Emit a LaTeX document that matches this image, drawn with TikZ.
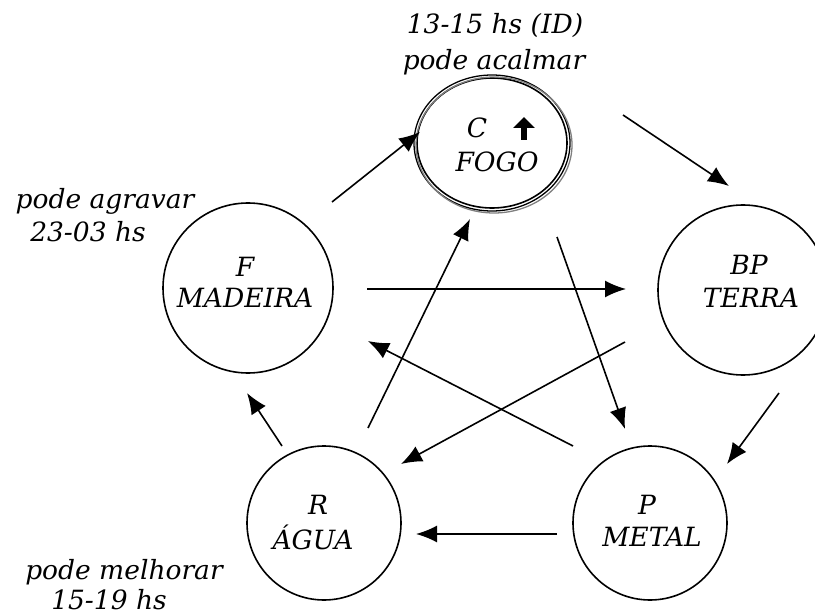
\documentclass[tikz,border=0pt]{standalone}
\usepackage{fontspec}
\setmainfont{DejaVu Serif}
\usetikzlibrary{arrows.meta,shapes.geometric}
\begin{document}
\begin{tikzpicture}[x=1pt,y=-1pt,
  lbl/.style={font=\fontsize{26.5}{30}\selectfont\itshape, inner sep=0pt},
  elem/.style={draw, line width=1.6pt, circle, inner sep=0pt},
  conn/.style={line width=1.6pt, -{Latex[length=21pt,width=17pt]}}]
\useasboundingbox (0,0) rectangle (815,615);
\fill[white] (0,0) rectangle (815,615);
% circles
\node[draw, line width=1.6pt, ellipse, minimum width=150pt, minimum height=130pt, inner sep=0pt] (C) at (492,143) {};
\draw[line width=1.3pt] (492,143) ellipse [x radius=78, y radius=68];
\draw[line width=1.3pt, gray] (494,145) ellipse [x radius=78, y radius=68];
\node[elem, minimum size=170pt] (F) at (248,288) {};
\node[elem, minimum size=170pt] (BP) at (743,290) {};
\node[elem, minimum size=154pt] (R) at (324,523) {};
\node[elem, minimum size=154pt] (P) at (650,523) {};
% texts
\node[lbl] (tC1) at (477,128) {C};
\coordinate (up1) at (524,140); \coordinate (up2) at (524,117);
\draw[line width=5.5pt, -{Triangle[length=11pt,width=21pt]}] (up1) -- (up2);
\node[lbl] (tC2) at (497,162) {FOGO};
\node[lbl] (tF1) at (245,267) {F};
\node[lbl] (tF2) at (245,298) {MADEIRA};
\node[lbl] (tB1) at (749,265) {BP};
\node[lbl] (tB2) at (751,298) {TERRA};
\node[lbl] (tR1) at (318,505) {R};
\node[lbl] (tR2) at (313,537) {ÁGUA};
\node[lbl] (tP1) at (647,505) {P};
\node[lbl] (tP2) at (652,537) {METAL};
\node[lbl] (n1) at (495,25) {13-15 hs (ID)};
\node[lbl] (n2) at (494,62) {pode acalmar};
\node[lbl] (n3) at (105,201) {pode agravar};
\node[lbl] (n4) at (88,232) {23-03 hs};
\node[lbl] (n5) at (124,572) {pode melhorar};
\node[lbl] (n6) at (109,600) {15-19 hs};
% connector ends
\coordinate (a1s) at (332,202); \coordinate (a1e) at (420,132);
\coordinate (a2s) at (623,115); \coordinate (a2e) at (729,186);
\coordinate (a3s) at (367,289); \coordinate (a3e) at (626,289);
\coordinate (a4s) at (625,342); \coordinate (a4e) at (401,464);
\coordinate (a5s) at (573,446); \coordinate (a5e) at (368,341);
\coordinate (a6s) at (557,237); \coordinate (a6e) at (625,429);
\coordinate (a7s) at (368,428); \coordinate (a7e) at (470,219);
\coordinate (a8s) at (282,446); \coordinate (a8e) at (247,393);
\coordinate (a9s) at (779,393); \coordinate (a9e) at (727,464);
\coordinate (a10s) at (557,534); \coordinate (a10e) at (416,534);
\draw[conn] (a1s) -- (a1e);
\draw[conn] (a2s) -- (a2e);
\draw[conn] (a3s) -- (a3e);
\draw[conn] (a4s) -- (a4e);
\draw[conn] (a5s) -- (a5e);
\draw[conn] (a6s) -- (a6e);
\draw[conn] (a7s) -- (a7e);
\draw[conn] (a8s) -- (a8e);
\draw[conn] (a9s) -- (a9e);
\draw[conn] (a10s) -- (a10e);
\end{tikzpicture}
\end{document}
